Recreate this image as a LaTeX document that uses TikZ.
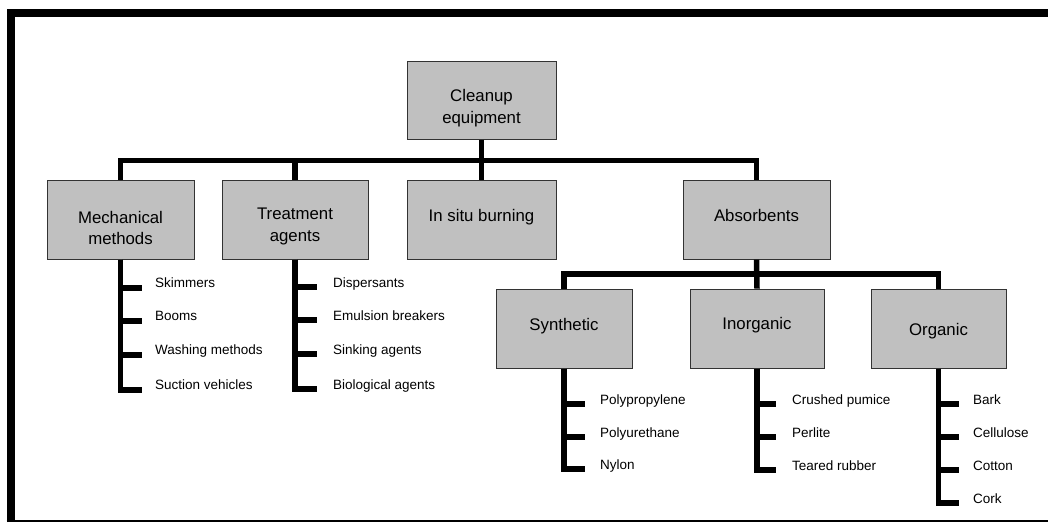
\documentclass[tikz,border=0pt]{standalone}
\usepackage{fontspec}
\setmainfont{Liberation Sans}
\newcommand\twolines[2]{\begin{tabular}[t]{@{}c@{}}#1\\#2\end{tabular}}
\begin{document}
\begin{tikzpicture}[x=1pt,y=-1pt,
  box/.style={draw=black!80,line width=1pt,fill={rgb,255:red,192;green,192;blue,192},inner sep=0pt,font=\fontsize{16.8}{21.6}\selectfont,text height=12pt},
  leaf/.style={inner sep=0pt,anchor=base west,font=\fontsize{13.5}{16}\selectfont},
  link/.style={line width=5.5pt,line join=miter},
  tick/.style={line width=5.5pt,line join=miter}]
\useasboundingbox (0,0) rectangle (1048,522);
% frame
\draw[line width=8pt] (10.5,522) -- (10.5,13) -- (1048,13);
\draw[line width=1.5pt] (6.5,520.8) -- (1048,520.8);
% boxes
\node[box,minimum width=149pt,minimum height=78pt,text depth=9.2pt] (root) at (481.5,100.3) {\twolines{Cleanup}{equipment}};
\node[box,minimum width=147pt,minimum height=79pt,text depth=5.4pt] (mech) at (120.5,219.7) {\twolines{Mechanical}{methods}};
\node[box,minimum width=146pt,minimum height=79pt,text depth=12pt] (treat) at (295,219.7) {\twolines{Treatment}{agents}};
\node[box,minimum width=149pt,minimum height=79pt,text depth=8.8pt] (insitu) at (481.5,219.7) {In situ burning};
\node[box,minimum width=147pt,minimum height=79pt,text depth=8.8pt] (absorb) at (756.5,219.7) {Absorbents};
\node[box,minimum width=136pt,minimum height=79pt,text depth=8.8pt] (synth) at (564,328.7) {Synthetic};
\node[box,minimum width=134pt,minimum height=79pt,text depth=10pt] (inorg) at (757,328.7) {Inorganic};
\node[box,minimum width=135pt,minimum height=79pt,text height=16pt,text depth=2.8pt] (organic) at (938.5,328.7) {Organic};
% bus coordinates
\coordinate (bus) at (0,160.5);
\coordinate (sbus) at (0,274);
% top-level connectors
\draw[link] (root.south) -- (root.south |- bus);
\draw[link] (mech.north) |- (absorb.north |- bus) -- (absorb.north);
\draw[link] (treat.north) -- (treat.north |- bus);
\draw[link] (insitu.north) -- (insitu.north |- bus);
\draw[link] (absorb.south) -- (inorg.north);
\draw[link] (synth.north) |- (organic.north |- sbus) -- (organic.north);
% leaves: mechanical
\node[leaf] (m1) at (155,287) {Skimmers};
\node[leaf] (m2) at (155,320) {Booms};
\node[leaf] (m3) at (155,354) {Washing methods};
\node[leaf] (m4) at (155,389) {Suction vehicles};
\foreach \n in {m1,m2,m3,m4}{\draw[tick] (mech.south) |- ([xshift=-13pt,yshift=-1pt]\n.base west);}
% leaves: treatment
\node[leaf] (t1) at (333,287) {Dispersants};
\node[leaf] (t2) at (333,320) {Emulsion breakers};
\node[leaf] (t3) at (333,354) {Sinking agents};
\node[leaf] (t4) at (333,389) {Biological agents};
\foreach \n in {t1,t2,t3,t4}{\draw[tick] (treat.south) |- ([xshift=-16pt]\n.base west);}
% leaves: synthetic
\node[leaf] (s1) at (600,404) {Polypropylene};
\node[leaf] (s2) at (600,437) {Polyurethane};
\node[leaf] (s3) at (600,469) {Nylon};
\foreach \n in {s1,s2,s3}{\draw[tick] (synth.south) |- ([xshift=-15pt]\n.base west);}
% leaves: inorganic
\node[leaf] (i1) at (792,404) {Crushed pumice};
\node[leaf] (i2) at (792,437) {Perlite};
\node[leaf] (i3) at (792,470) {Teared rubber};
\foreach \n in {i1,i2,i3}{\draw[tick] (inorg.south) |- ([xshift=-16pt]\n.base west);}
% leaves: organic
\node[leaf] (o1) at (973,404) {Bark};
\node[leaf] (o2) at (973,437) {Cellulose};
\node[leaf] (o3) at (973,470) {Cotton};
\node[leaf] (o4) at (973,503) {Cork};
\foreach \n in {o1,o2,o3,o4}{\draw[tick] (organic.south) |- ([xshift=-14pt]\n.base west);}
\end{tikzpicture}
\end{document}
